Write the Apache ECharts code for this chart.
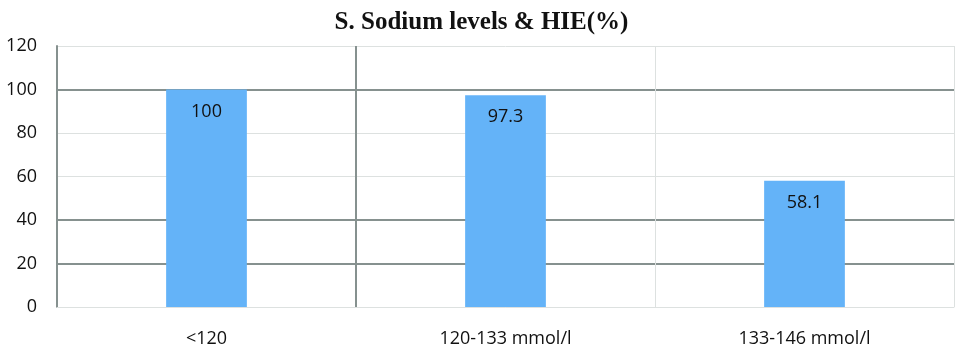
<!DOCTYPE html>
<html>
<head>
<meta charset="utf-8">
<script src="https://cdn.jsdelivr.net/npm/echarts@6/dist/echarts.min.js"></script>
<style>html,body{margin:0;padding:0;background:#fff;}#c{width:963px;height:357px;}</style>
</head>
<body>
<div id="c"></div>
<script>
const categories = ['<120', '120-133 mmol/l', '133-146 mmol/l'];
const values = [100, 97.3, 58.1];
const yTicks = {min: 0, max: 120, interval: 20};
const titleText = 'S. Sodium levels & HIE(%)';

const DARK = '#86918f';
const LIGHT = '#dde1e0';
const T = 'rgba(0,0,0,0)';
const font = 'Open Sans';

const chart = echarts.init(document.getElementById('c'));
chart.setOption({
  animation: false,
  title: {
    text: titleText, left: 'center', top: 5,
    textStyle: {fontFamily: 'Liberation Serif', fontWeight: 'bold', fontSize: 25, color: '#111'}
  },
  grid: {left: 57, right: 9, top: 46, bottom: 50},
  xAxis: [{
    type: 'category', data: categories,
    axisLine: {show: true, lineStyle: {color: LIGHT, width: 1}},
    axisTick: {show: false},
    axisLabel: {margin: 23, fontFamily: font, fontSize: 18, color: '#111'},
    splitLine: {show: true, lineStyle: {color: LIGHT, width: 1}}
  }, {
    type: 'category', data: categories, position: 'bottom',
    axisLine: {show: false}, axisTick: {show: false}, axisLabel: {show: false},
    splitLine: {show: true, lineStyle: {color: [T, DARK, T, T], width: 2}}
  }],
  yAxis: [{
    type: 'value', min: yTicks.min, max: yTicks.max, interval: yTicks.interval,
    axisLine: {show: true, lineStyle: {color: DARK, width: 2}},
    axisTick: {show: false},
    axisLabel: {margin: 20, fontFamily: font, fontSize: 18, color: '#111'},
    splitLine: {show: true, lineStyle: {color: LIGHT, width: 1}}
  }, {
    type: 'value', min: yTicks.min, max: yTicks.max, interval: yTicks.interval, position: 'left',
    axisLine: {show: false}, axisTick: {show: false}, axisLabel: {show: false},
    splitLine: {show: true, lineStyle: {color: [T, DARK, DARK, T, T, DARK, T], width: 2}}
  }],
  series: [{
    type: 'bar', data: values, xAxisIndex: 0, yAxisIndex: 0,
    barWidth: '27%',
    itemStyle: {color: '#64b3f8'},
    label: {show: true, position: 'insideTop', distance: 13, fontFamily: font, fontSize: 18, color: '#111'}
  }]
});
</script>
</body>
</html>
